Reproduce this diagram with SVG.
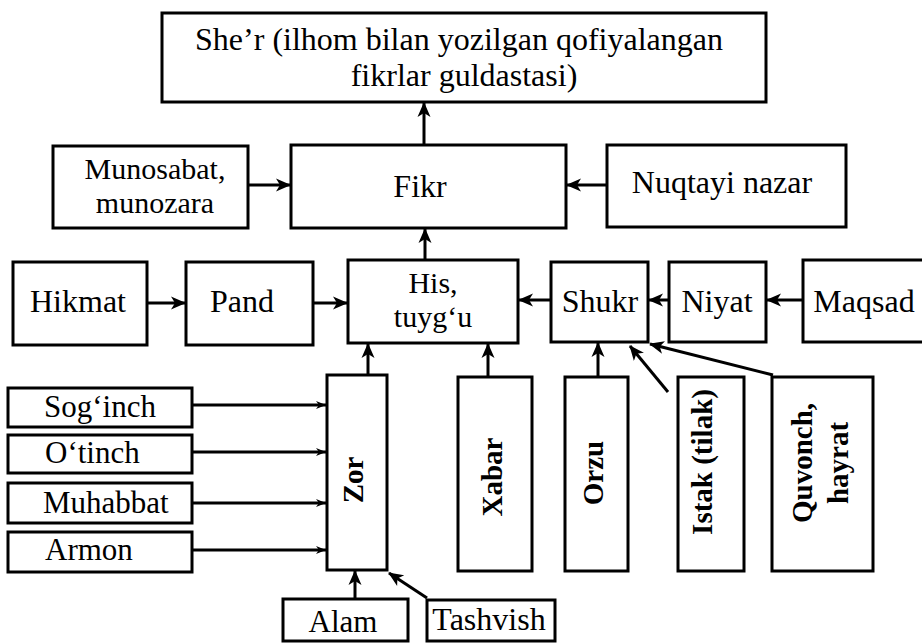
<svg xmlns="http://www.w3.org/2000/svg" width="922" height="643" viewBox="0 0 922 643">
<style>
.b{fill:#fff;stroke:#000;stroke-width:3}
text{font-family:"Liberation Serif","Times New Roman",serif;font-size:32px;fill:#000}
.m{text-anchor:middle}
.s{font-size:31px}
.t{font-size:30px}
.v{font-size:29px;font-weight:bold;text-anchor:middle}
.c{stroke:#000;stroke-width:3;fill:none}
</style>
<defs>
<marker id="a" markerUnits="userSpaceOnUse" markerWidth="15" markerHeight="15" viewBox="0 0 15 15" refX="14" refY="7.5" orient="auto">
<path d="M0,1 L15,7.5 L0,14 L4,7.5 z" fill="#000"/>
</marker>
<marker id="sm" markerUnits="userSpaceOnUse" markerWidth="10" markerHeight="10" viewBox="0 0 10 10" refX="10" refY="5" orient="auto">
<path d="M0,1 L10,5 L0,9 L3,5 z" fill="#000"/>
</marker>
</defs>
<rect width="922" height="643" fill="#fff"/>
<g id="connectors">
<line class="c" x1="424" y1="145" x2="424" y2="103" marker-end="url(#a)"/>
<line class="c" x1="248" y1="185" x2="290" y2="185" marker-end="url(#a)"/>
<line class="c" x1="607" y1="185" x2="567" y2="185" marker-end="url(#a)"/>
<line class="c" x1="425" y1="260" x2="425" y2="229" marker-end="url(#a)"/>
<line class="c" x1="147" y1="303" x2="185" y2="303" marker-end="url(#a)"/>
<line class="c" x1="313" y1="303" x2="347" y2="303" marker-end="url(#a)"/>
<line class="c" x1="551" y1="300" x2="519" y2="300" marker-end="url(#a)"/>
<line class="c" x1="669" y1="300" x2="649" y2="300" marker-end="url(#a)"/>
<line class="c" x1="803" y1="300" x2="767" y2="300" marker-end="url(#a)"/>
<line class="c" x1="368" y1="375" x2="368" y2="344" marker-end="url(#a)"/>
<line class="c" x1="488" y1="377" x2="488" y2="344" marker-end="url(#a)"/>
<line class="c" x1="598" y1="377" x2="598" y2="343" marker-end="url(#a)"/>
<line class="c" x1="668" y1="392" x2="630" y2="346" marker-end="url(#a)"/>
<line class="c" x1="773" y1="375" x2="650" y2="344" marker-end="url(#a)"/>
<line class="c" x1="192" y1="405" x2="326" y2="405" marker-end="url(#sm)"/>
<line class="c" x1="192" y1="452" x2="326" y2="452" marker-end="url(#sm)"/>
<line class="c" x1="192" y1="503" x2="326" y2="503" marker-end="url(#sm)"/>
<line class="c" x1="192" y1="550" x2="326" y2="550" marker-end="url(#sm)"/>
<line class="c" x1="355" y1="599" x2="355" y2="571" marker-end="url(#a)"/>
<line class="c" x1="427" y1="598" x2="389" y2="573" marker-end="url(#a)"/>
</g>
<g id="sher"><rect class="b" x="162" y="13" width="604" height="89"/>
<text class="m" x="459" y="50">She’r (ilhom bilan yozilgan qofiyalangan</text>
<text class="m" x="464" y="86">fikrlar guldastasi)</text></g>
<g id="munosabat"><rect class="b" x="53" y="146" width="195" height="82"/>
<text class="m t" x="155" y="179">Munosabat,</text>
<text class="m t" x="155" y="213">munozara</text></g>
<g id="fikr"><rect class="b" x="291" y="145" width="275" height="83"/>
<text class="m" x="420" y="197">Fikr</text></g>
<g id="nuqtayi"><rect class="b" x="607" y="145" width="239" height="82"/>
<text class="m" x="722" y="193">Nuqtayi nazar</text></g>
<g id="hikmat"><rect class="b" x="13" y="262" width="134" height="83"/>
<text class="m" x="78" y="312">Hikmat</text></g>
<g id="pand"><rect class="b" x="186" y="262" width="127" height="83"/>
<text class="m" x="242" y="312">Pand</text></g>
<g id="his"><rect class="b" x="348" y="260" width="170" height="83"/>
<text class="m t" x="433" y="293">His,</text>
<text class="m t" x="433" y="327">tuyg‘u</text></g>
<g id="shukr"><rect class="b" x="551" y="262" width="97" height="80"/>
<text class="m" x="600" y="312">Shukr</text></g>
<g id="niyat"><rect class="b" x="669" y="262" width="97" height="80"/>
<text class="m" x="717" y="312">Niyat</text></g>
<g id="maqsad"><rect class="b" x="803" y="260" width="130" height="82"/>
<text class="m" x="864" y="312">Maqsad</text></g>
<g id="soginch"><rect class="b" x="8" y="388" width="184" height="39"/>
<text class="s" x="44" y="417">Sog‘inch</text></g>
<g id="otinch"><rect class="b" x="8" y="435" width="184" height="38"/>
<text class="s" x="45" y="463">O‘tinch</text></g>
<g id="muhabbat"><rect class="b" x="8" y="483" width="184" height="40"/>
<text class="s" x="43" y="513">Muhabbat</text></g>
<g id="armon"><rect class="b" x="8" y="532" width="184" height="40"/>
<text class="s" x="45" y="560">Armon</text></g>
<g id="zor"><rect class="b" x="327" y="375" width="60" height="195"/>
<text class="v" transform="translate(363,480) rotate(-90)">Zor</text></g>
<g id="xabar"><rect class="b" x="458" y="377" width="74" height="194"/>
<text class="v" transform="translate(502,477) rotate(-90)">Xabar</text></g>
<g id="orzu"><rect class="b" x="565" y="377" width="63" height="194"/>
<text class="v" transform="translate(603,473) rotate(-90)">Orzu</text></g>
<g id="istak"><rect class="b" x="678" y="377" width="66" height="194"/>
<text class="v" transform="translate(712,462) rotate(-90)">Istak (tilak)</text></g>
<g id="quvonch"><rect class="b" x="772" y="377" width="101" height="194"/>
<text class="v" transform="translate(812,463) rotate(-90)">Quvonch,</text>
<text class="v" transform="translate(848,463) rotate(-90)">hayrat</text></g>
<g id="alam"><rect class="b" x="283" y="599" width="125" height="42"/>
<text class="s m" x="343" y="632">Alam</text></g>
<g id="tashvish"><rect class="b" x="427" y="600" width="128" height="41"/>
<text class="m" x="489" y="630">Tashvish</text></g>
</svg>
